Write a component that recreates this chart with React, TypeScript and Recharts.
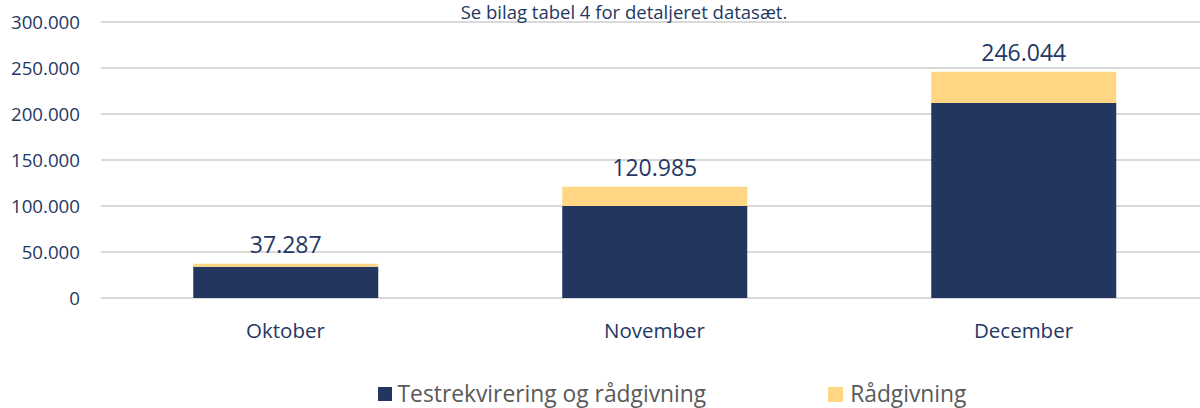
import { BarChart, Bar, XAxis, YAxis, CartesianGrid, Legend, LabelList } from "recharts";

const months = ["Oktober", "November", "December"];
const testrekvirering = [34000, 100000, 212000];
const raadgivning = [3287, 20985, 34044];
const totals = [37287, 120985, 246044];
const yTicks = [0, 50000, 100000, 150000, 200000, 250000, 300000];

const NAVY = "#22365F";
const YELLOW = "#FFD684";
const TEXT = "#1F3864";
const FONT = "'Open Sans', sans-serif";

const data = months.map((m, i) => ({
  month: m,
  test: testrekvirering[i],
  raad: raadgivning[i],
  total: totals[i],
}));

const fmt = (v: number) => String(v).replace(/\B(?=(\d{3})+(?!\d))/g, ".");

const LegendBox = () => (
  <div
    style={{
      display: "flex",
      justifyContent: "center",
      alignItems: "center",
      height: 50,
      paddingTop: 22,
      paddingLeft: 136,
      boxSizing: "border-box",
      fontFamily: FONT,
      fontSize: 22.8,
      lineHeight: "26px",
      color: "#595959",
    }}
  >
    <span style={{ display: "flex", alignItems: "center", marginRight: 122 }}>
      <span style={{ width: 14, height: 14, background: NAVY, marginRight: 6 }} />
      Testrekvirering og rådgivning
    </span>
    <span style={{ display: "flex", alignItems: "center" }}>
      <span style={{ width: 15, height: 15, background: YELLOW, marginRight: 7 }} />
      Rådgivning
    </span>
  </div>
);

export default function App() {
  return (
    <div style={{ position: "absolute", left: 0, top: 0, width: 1200, height: 408, overflow: "hidden", background: "#fff" }}>
      <BarChart
        width={1208}
        height={408}
        data={data}
        margin={{ top: 22, right: 0, left: 0, bottom: 0 }}
        barCategoryGap="25%"
      >
        <text x={624} y={19} textAnchor="middle" fontFamily={FONT} fontSize={18.5} fill={TEXT}>
          Se bilag tabel 4 for detaljeret datasæt.
        </text>
        <CartesianGrid vertical={false} stroke="#D9D9D9" strokeWidth={2} />
        <XAxis
          dataKey="month"
          axisLine={false}
          tickLine={false}
          height={60}
          tickMargin={19}
          tick={{ fill: TEXT, fontSize: 20.5, fontFamily: FONT }}
        />
        <YAxis
          domain={[0, 300000]}
          ticks={yTicks}
          axisLine={false}
          tickLine={false}
          width={101}
          tickMargin={15}
          tickFormatter={fmt}
          tick={{ fill: TEXT, fontSize: 18.7, fontFamily: FONT }}
        />
        <Legend verticalAlign="bottom" height={50} content={() => <LegendBox />} />
        <Bar dataKey="test" stackId="a" fill={NAVY} isAnimationActive={false} />
        <Bar dataKey="raad" stackId="a" fill={YELLOW} isAnimationActive={false}>
          <LabelList
            dataKey="total"
            position="top"
            offset={11}
            formatter={(v: any) => fmt(Number(v))}
            fill={TEXT}
            fontSize={23}
            fontFamily={FONT}
          />
        </Bar>
      </BarChart>
    </div>
  );
}
